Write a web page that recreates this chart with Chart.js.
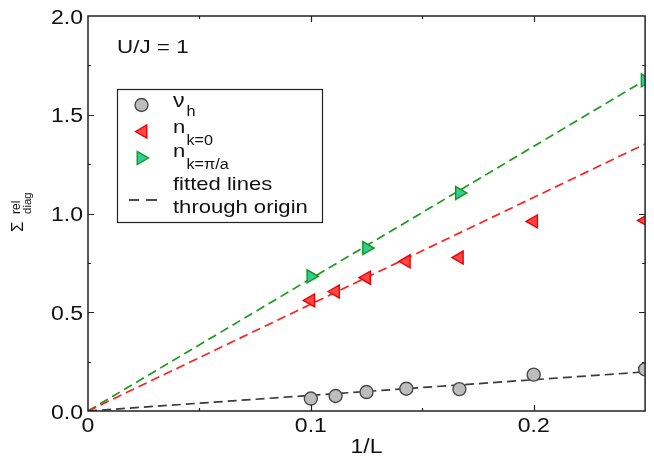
<!DOCTYPE html>
<html>
<head>
<meta charset="utf-8">
<script src="https://cdn.jsdelivr.net/npm/chart.js@4"></script>
<style>
  html, body { margin: 0; padding: 0; background: #fff; }
  #wrap { width: 654px; height: 460px; }
</style>
</head>
<body>
<div id="wrap"><canvas id="c" width="654" height="460"></canvas></div>
<script>
// 1/L for L = 10, 9, 8, 7, 6, 5, 4
const invL = [0.1, 1 / 9, 0.125, 1 / 7, 1 / 6, 0.2, 0.25];
const nuH = [0.063, 0.076, 0.096, 0.113, 0.111, 0.184, 0.211];
const nK0 = [0.56, 0.605, 0.675, 0.758, 0.777, 0.96, 0.965];
const invLPi = [0.1, 0.125, 1 / 6, 0.25];
const nKPi = [0.682, 0.825, 1.104, 1.674];

// fitted lines through the origin, end points at 1/L = 0.25
const fitX = [0, 0.25];
const fitNuH = [0, 0.198];
const fitK0 = [0, 1.352];
const fitKPi = [0, 1.675];

const xTicks = [0, 0.1, 0.2];
const xTickLabels = ['0', '0.1', '0.2'];
const yTicks = [0, 0.5, 1.0, 1.5, 2.0];
const yTickLabels = ['0.0', '0.5', '1.0', '1.5', '2.0'];

const FONT = '"Liberation Sans", Arial, Helvetica, sans-serif';
const WIDE = 1.16;   // horizontal stretch of the lettering

const pts = (xs, ys) => xs.map((x, i) => ({ x: x, y: ys[i] }));

const COL = {
  grayFill: '#bdbdbd', grayEdge: '#4a4a4a', grayLine: '#3c3c3c',
  redFill: '#ff4646', redEdge: '#f00000', redLine: '#ff2020',
  greenFill: '#33cc99', greenEdge: '#119911', greenLine: '#1a9a1a'
};

function fitLine(ys, color) {
  return {
    type: 'line', data: pts(fitX, ys), borderColor: color, borderWidth: 1.7,
    borderDash: [9, 5], pointRadius: 0, fill: false, clip: 0, order: 2
  };
}

function markers(xs, ys, style, rot, r, fill, edge) {
  return {
    type: 'scatter', data: pts(xs, ys), pointStyle: style, rotation: rot,
    pointRadius: r, pointBackgroundColor: fill, pointBorderColor: edge,
    pointBorderWidth: 1.4, clip: 0, order: 1, showLine: false
  };
}

// text drawn with a horizontal stretch
function wideText(ctx, text, x, y, size, align, sx) {
  ctx.save();
  ctx.translate(x, y);
  ctx.scale(sx || WIDE, 1);
  ctx.font = size + 'px ' + FONT;
  ctx.textAlign = align || 'left';
  ctx.fillText(text, 0, 0);
  ctx.restore();
}

// box, inward ticks, tick labels, legend and titles
const decor = {
  id: 'decor',
  afterDraw(chart) {
    const ctx = chart.ctx;
    const a = chart.chartArea;
    const xs = chart.scales.x, ys = chart.scales.y;
    ctx.save();
    ctx.strokeStyle = '#222';
    ctx.lineWidth = 1.5;
    ctx.strokeRect(a.left, a.top, a.right - a.left, a.bottom - a.top);

    ctx.lineWidth = 1.2;
    ctx.beginPath();
    for (let i = 1; i < 5; i++) {
      const v = i * 0.05;
      const len = (i % 2 === 0) ? 6 : 3;
      const px = Math.round(xs.getPixelForValue(v)) + 0.5;
      ctx.moveTo(px, a.bottom); ctx.lineTo(px, a.bottom - len);
      ctx.moveTo(px, a.top); ctx.lineTo(px, a.top + len);
    }
    for (let i = 1; i < 8; i++) {
      const v = i * 0.25;
      const len = (i % 2 === 0) ? 6 : 3;
      const py = Math.round(ys.getPixelForValue(v)) + 0.5;
      ctx.moveTo(a.left, py); ctx.lineTo(a.left + len, py);
      ctx.moveTo(a.right, py); ctx.lineTo(a.right - len, py);
    }
    ctx.stroke();

    ctx.fillStyle = '#111';
    ctx.textBaseline = 'alphabetic';

    // tick labels at the scale positions
    xs.ticks.forEach((t, i) => {
      wideText(ctx, xTickLabels[i], xs.getPixelForValue(t.value), a.bottom + 21, 20, 'center', 1.15);
    });
    ys.ticks.forEach((t, i) => {
      wideText(ctx, yTickLabels[i], a.left - 5, ys.getPixelForValue(t.value) + 7.5, 20, 'right', 1.15);
    });

    // panel label
    wideText(ctx, 'U/J = 1', 117, 53, 19, 'left', 1.18);

    // x title
    wideText(ctx, '1/L', (a.left + a.right) / 2, 453, 20, 'center', 1.15);

    // y title: Sigma with superscript and subscript, rotated
    ctx.save();
    ctx.translate(23, 232);
    ctx.rotate(-Math.PI / 2);
    ctx.textAlign = 'left';
    ctx.font = '17px ' + FONT;
    ctx.fillText('\u03A3', 0, 0);
    ctx.font = '12px ' + FONT;
    ctx.fillText('rel', 18, -3);
    ctx.font = '11.5px ' + FONT;
    ctx.fillText('diag', 18, 8);
    ctx.restore();

    // legend
    ctx.fillStyle = '#fff';
    ctx.fillRect(117.5, 89.5, 205, 133);
    ctx.strokeStyle = '#222';
    ctx.lineWidth = 1.2;
    ctx.strokeRect(117.5, 89.5, 205, 133);

    const H = Chart.helpers;
    const mk = (style, rot, r, fill, edge, x, y) => {
      ctx.fillStyle = fill; ctx.strokeStyle = edge; ctx.lineWidth = 1.4;
      H.drawPoint(ctx, { pointStyle: style, rotation: rot, radius: r, borderWidth: 1.4 }, x, y);
    };
    mk('circle', 0, 6.5, COL.grayFill, COL.grayEdge, 141.5, 105);
    mk('triangle', -90, 7.5, COL.redFill, COL.redEdge, 143, 131.5);
    mk('triangle', 90, 7.5, COL.greenFill, COL.greenEdge, 141, 158);

    ctx.strokeStyle = '#111';
    ctx.lineWidth = 1.7;
    ctx.beginPath();
    ctx.moveTo(129, 200); ctx.lineTo(139, 200);
    ctx.moveTo(146, 200); ctx.lineTo(157, 200);
    ctx.stroke();

    ctx.fillStyle = '#111';
    wideText(ctx, '\u03BD', 173, 107, 20);
    wideText(ctx, 'h', 186.5, 116, 14);
    wideText(ctx, 'n', 173, 133, 19);
    wideText(ctx, 'k=0', 186.5, 144.5, 14);
    wideText(ctx, 'n', 173, 157, 19);
    wideText(ctx, 'k=\u03C0/a', 186.5, 168.5, 14);
    wideText(ctx, 'fitted lines', 173, 190, 19);
    wideText(ctx, 'through origin', 173, 212.5, 19);
    ctx.restore();
  }
};

new Chart(document.getElementById('c'), {
  data: {
    datasets: [
      fitLine(fitNuH, COL.grayLine),
      fitLine(fitK0, COL.redLine),
      fitLine(fitKPi, COL.greenLine),
      markers(invL, nuH, 'circle', 0, 6.5, COL.grayFill, COL.grayEdge),
      markers(invL, nK0, 'triangle', -90, 7.5, COL.redFill, COL.redEdge),
      markers(invLPi, nKPi, 'triangle', 90, 7.5, COL.greenFill, COL.greenEdge)
    ]
  },
  options: {
    responsive: false,
    animation: false,
    devicePixelRatio: 1,
    layout: { padding: { left: 0, top: 16, right: 1, bottom: 0 } },
    plugins: { legend: { display: false }, tooltip: { enabled: false } },
    scales: {
      x: {
        type: 'linear', min: 0, max: 0.25,
        grid: { display: false, drawTicks: false },
        border: { display: false },
        afterFit: s => { s.height = 49; },
        afterBuildTicks: s => { s.ticks = xTicks.map(v => ({ value: v })); },
        ticks: { display: false }
      },
      y: {
        type: 'linear', min: 0, max: 2,
        grid: { display: false, drawTicks: false },
        border: { display: false },
        afterFit: s => { s.width = 88; },
        afterBuildTicks: s => { s.ticks = yTicks.map(v => ({ value: v })); },
        ticks: { display: false }
      }
    }
  },
  plugins: [decor]
});
</script>
</body>
</html>
